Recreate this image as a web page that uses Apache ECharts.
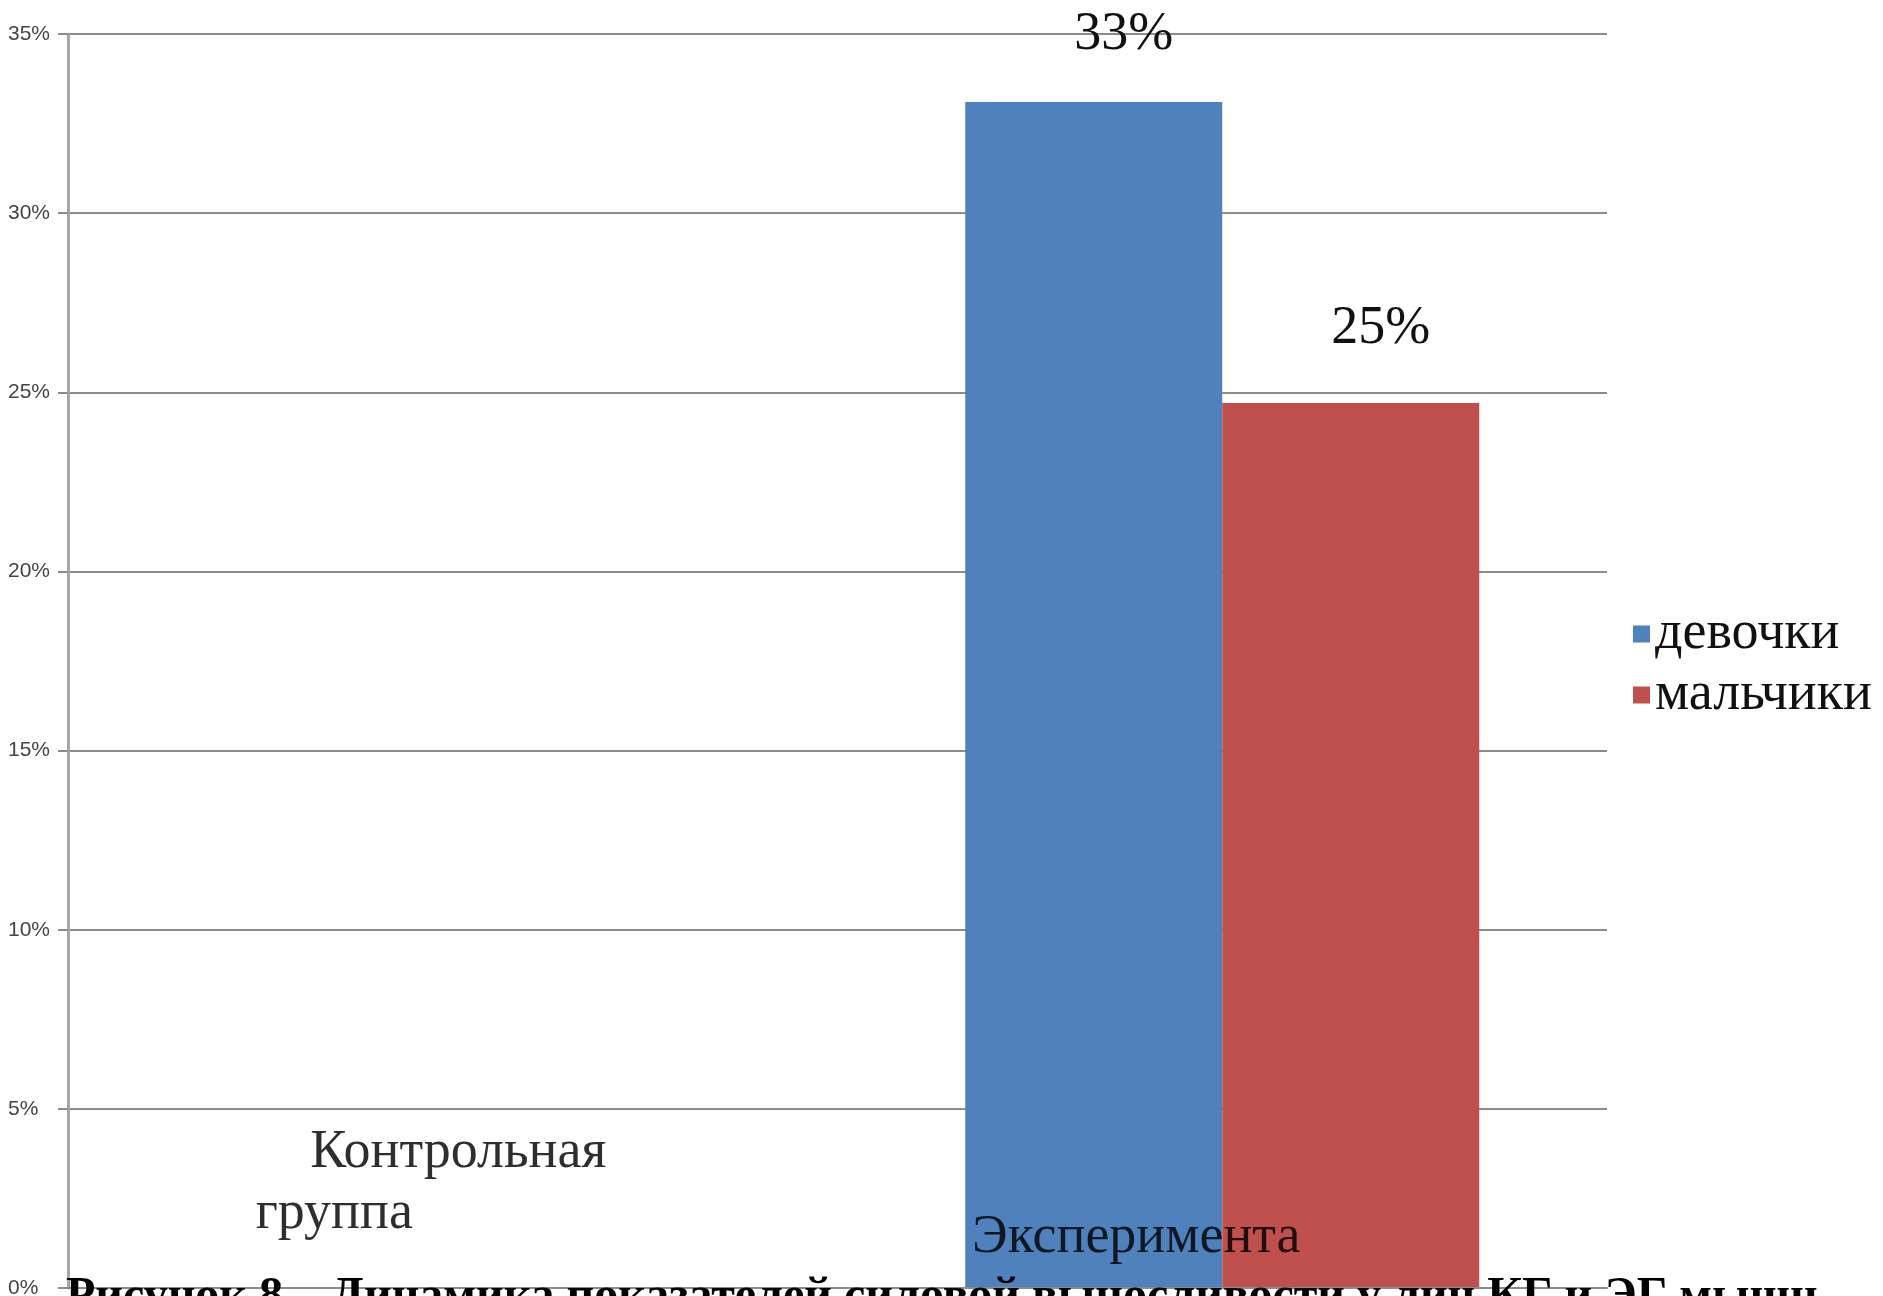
<!DOCTYPE html>
<html>
<head>
<meta charset="utf-8">
<script src="https://cdn.jsdelivr.net/npm/echarts@6/dist/echarts.min.js"></script>
<style>
html,body{margin:0;padding:0;background:#fff;}
#chart{width:1883px;height:1296px;}
</style>
</head>
<body>
<div id="chart"></div>
<script>
const categories = ['Контрольная группа', 'Эксперимента'];
const girls = [0, 33.1];
const boys = [0, 24.7];
const seriesNames = ['девочки', 'мальчики'];
const yTicks = [0, 5, 10, 15, 20, 25, 30, 35];
const caption = 'Рисунок 8 – Динамика показателей силовой выносливости у лиц КГ и ЭГ мышц';

const serif = '"Liberation Serif", "Times New Roman", serif';
const chart = echarts.init(document.getElementById('chart'), null, {renderer: 'canvas'});

function barLabel(distance) {
  return {
    show: true,
    position: 'top',
    distance: distance,
    offset: [30, 0],
    fontFamily: serif,
    fontSize: 54,
    color: '#111',
    formatter: p => (p.value ? Math.round(p.value) + '%' : '')
  };
}

chart.setOption({
  backgroundColor: '#ffffff',
  animation: false,
  title: {
    text: caption,
    left: 66,
    top: 1274,
    padding: 0,
    textStyle: {fontFamily: serif, fontWeight: 'bold', fontSize: 48, color: '#000'}
  },
  legend: {
    data: seriesNames,
    orient: 'vertical',
    left: 1633,
    top: 607,
    padding: 0,
    itemWidth: 17,
    itemHeight: 17,
    itemGap: 7,
    icon: 'rect',
    textStyle: {fontFamily: serif, fontSize: 54, lineHeight: 54, color: '#111'}
  },
  grid: {left: 68, right: 276, top: 34, bottom: 8, outerBoundsMode: 'none'},
  xAxis: {
    type: 'category',
    data: categories,
    z: 5,
    axisLine: {show: true, lineStyle: {color: '#8c8c8c', width: 2}},
    axisTick: {show: false},
    axisLabel: {
      inside: true,
      margin: 20,
      interval: 0,
      color: 'rgba(0,0,0,0.82)',
      fontFamily: serif,
      fontSize: 54,
      lineHeight: 61,
      formatter: function (v, i) {
        if (i === 0) {
          const parts = v.split(' ');
          return '{a|' + parts[0] + '}\n{b|' + parts[1] + '}\n{s| }';
        }
        return '{c|' + v + '}';
      },
      rich: {
        a: {fontFamily: serif, fontSize: 54, lineHeight: 61, padding: [0, 0, 0, 11]},
        b: {fontFamily: serif, fontSize: 54, lineHeight: 61, padding: [0, 237, 0, 0]},
        s: {fontSize: 10, lineHeight: 24},
        c: {fontFamily: serif, fontSize: 54, lineHeight: 61, padding: [0, 172, 0, 0]}
      }
    }
  },
  yAxis: {
    type: 'value',
    min: yTicks[0],
    max: yTicks[yTicks.length - 1],
    interval: 5,
    axisLine: {show: true, lineStyle: {color: '#a6a6a6', width: 3}},
    axisTick: {show: true, length: 10, lineStyle: {color: '#8c8c8c', width: 2}},
    splitLine: {show: true, lineStyle: {color: '#8c8c8c', width: 2}},
    axisLabel: {
      align: 'left',
      margin: 60,
      fontFamily: '"Liberation Sans", Arial, sans-serif',
      fontSize: 21,
      color: '#444',
      formatter: '{value}%'
    }
  },
  series: [
    {
      name: seriesNames[0],
      type: 'bar',
      data: girls,
      barWidth: 257,
      barGap: '0%',
      itemStyle: {color: '#4F81BD'},
      label: barLabel(40)
    },
    {
      name: seriesNames[1],
      type: 'bar',
      data: boys,
      barWidth: 257,
      barGap: '0%',
      itemStyle: {color: '#C0504D'},
      label: barLabel(47)
    }
  ]
});
</script>
</body>
</html>
